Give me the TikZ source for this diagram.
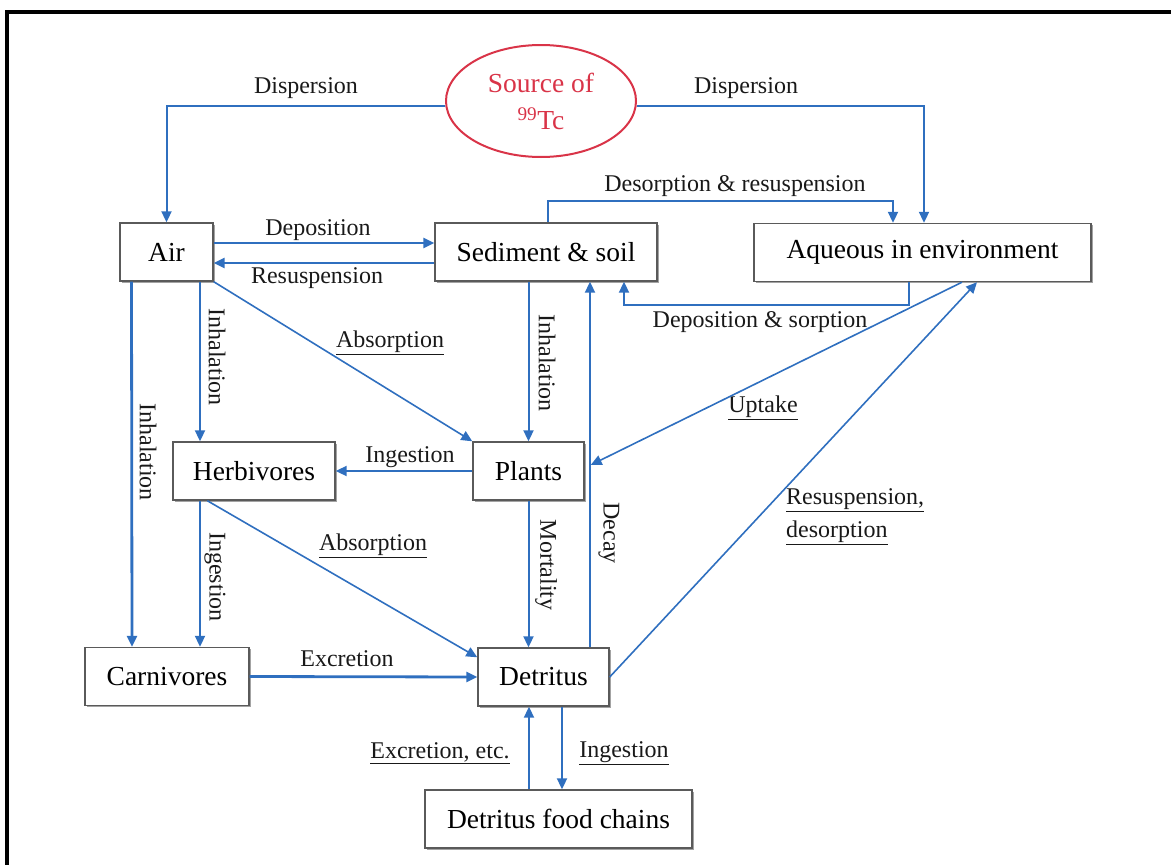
\documentclass[tikz,border=0pt]{standalone}
\usepackage{fontspec}
\setmainfont{Liberation Serif}
\usepackage{xcolor}
\usepackage{tikz}
\usetikzlibrary{arrows.meta,shapes.geometric,shadows}
\definecolor{flowblue}{HTML}{2F6FBF}
\definecolor{srcred}{HTML}{D93448}
\definecolor{boxline}{HTML}{5A5A5A}
\tikzset{
  pool/.style={draw=boxline,fill=white,line width=1.4pt,inner sep=0pt,minimum height=58pt,font=\fontsize{27.5}{30}\selectfont,drop shadow={shadow xshift=1.5pt,shadow yshift=-1.5pt,fill=black!60,opacity=0.6}},
  source/.style={ellipse,draw=srcred,line width=2pt,text=srcred,align=center,inner sep=0pt,minimum width=190pt,minimum height=112pt,font=\fontsize{27.5}{37}\selectfont},
  flow/.style={-{Triangle[length=11pt,width=10pt]},line width=2pt,color=flowblue},
  heavy/.style={flow,line width=2.8pt},
  slim/.style={flow,line width=1.6pt},
  lbl/.style={font=\fontsize{24}{33}\selectfont,inner sep=0pt,text=black!90},
  vlbl/.style={lbl,rotate=-90},
}

\begin{document}
\begin{tikzpicture}[x=1pt,y=-1pt]
    \useasboundingbox (0,0) rectangle (1171,865);
    \draw[line width=4pt] (7,865) -- (7,12) -- (1171,12);
    \node[source] (src) at (541,101) {Source of\\\textsuperscript{99}Tc};
    \node[pool,minimum width=93pt] (air) at (166.5,252) {Air};
    \node[pool,minimum width=222pt] (sed) at (546,252) {Sediment \& soil};
    \node[pool,minimum width=337pt] (aqu) at (922.5,252.5) {Aqueous in environment};
    \node[pool,minimum width=162pt] (herb) at (254,471) {Herbivores};
    \node[pool,minimum width=111pt] (plants) at (528.5,471) {Plants};
    \node[pool,minimum width=164pt] (carn) at (167,676.5) {Carnivores};
    \node[pool,minimum width=131pt] (detr) at (543.5,677) {Detritus};
    \node[pool,minimum width=267pt] (dfc) at (558.5,819) {Detritus food chains};
    \node[lbl] (dispL) at (306,88) {Dispersion};
    \node[lbl] (dispR) at (746,88) {Dispersion};
    \node[lbl] (depo) at (318,230) {Deposition};
    \node[lbl] (resus) at (317,278) {Resuspension};
    \node[lbl] (desres) at (735,186) {Desorption \& resuspension};
    \node[lbl] (depsor) at (760,322) {Deposition \& sorption};
    \node[vlbl] (inhHerb) at (217,357) {Inhalation};
    \node[vlbl] (inhPl) at (547,363) {Inhalation};
    \node[vlbl] (inhCarn) at (148,452) {Inhalation};
    \node[lbl] (absPl) at (390,343) {\underline{Absorption}};
    \node[lbl] (ingHerb) at (410,457) {Ingestion};
    \node[vlbl] (ingCarn) at (215,577) {Ingestion};
    \node[lbl] (absDet) at (373,546) {\underline{Absorption}};
    \node[vlbl] (mort) at (546,565) {Mortality};
    \node[vlbl] (decay) at (609,533) {Decay};
    \node[lbl] (uptake) at (763,408) {\underline{Uptake}};
    \node[lbl,anchor=west,align=left] (resdes) at (786,517) {\underline{Resuspension,}\\\underline{desorption}};
    \node[lbl] (excr) at (347,659) {Excretion};
    \node[lbl] (excrEtc) at (440,753) {\underline{Excretion, etc.}};
    \node[lbl] (ingDfc) at (624,753) {\underline{Ingestion}};
    \draw[flow] ([yshift=-5pt]src.west) -| (air.north);
    \draw[flow] ([yshift=-5pt]src.east) -| ([xshift=1.5pt]aqu.north);
    \draw[heavy] ([yshift=9pt]air.east) -- ([yshift=9pt]sed.west);
    \draw[heavy] ([yshift=-11pt]sed.west) -- ([yshift=-11pt]air.east);
    \draw[flow] ([xshift=2pt]sed.north) -- ++(0,-21) -| ([xshift=-29.5pt]aqu.north);
    \draw[flow] ([xshift=-13.5pt]aqu.south) -- ++(0,23) -| ([xshift=78pt]sed.south);
    \draw[heavy] ([xshift=-35pt]air.south) -- ([xshift=-35pt]carn.north);
    \draw[flow] ([xshift=33.5pt]air.south) -- ([xshift=33.5pt]air.south |- herb.north);
    \draw[slim] (air.south east) -- (plants.north west);
    \draw[flow] (plants.north |- sed.south) -- (plants.north);
    \draw[flow] (plants.west) -- (herb.east);
    \draw[flow] ([xshift=-54pt]herb.south) -- ([xshift=-54pt]herb.south |- carn.north);
    \draw[slim] ([xshift=35pt]herb.south west) -- ([yshift=-10pt]detr.north west);
    \draw[heavy] (carn.east) -- (detr.west);
    \draw[flow] (plants.south) -- (plants.south |- detr.north);
    \draw[flow] ([xshift=46.5pt]detr.north) -- ([xshift=46.5pt]detr.north |- sed.south);
    \draw[slim] ([xshift=39.5pt]aqu.south) -- ([xshift=6pt,yshift=6pt]plants.east);
    \draw[slim] (detr.east) -- ([xshift=54.5pt]aqu.south);
    \draw[flow] ([xshift=-29.5pt]dfc.north) -- ([xshift=-29.5pt]dfc.north |- detr.south);
    \draw[flow] ([xshift=18.5pt]detr.south) -- ([xshift=18.5pt]detr.south |- dfc.north);
\end{tikzpicture}
\end{document}
